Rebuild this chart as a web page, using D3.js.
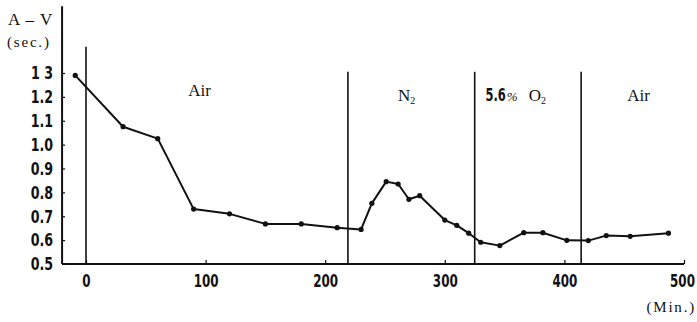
<!DOCTYPE html>
<html>
<head>
<meta charset="utf-8">
<script src="https://cdn.jsdelivr.net/npm/d3@7"></script>
<style>
  body { margin: 0; background: #fff; }
  svg { display: block; }
  .tick text { font-family: "DejaVu Sans Condensed", "Liberation Sans", sans-serif; font-weight: bold; fill: #111; }
  .serif { font-family: "Liberation Serif", "DejaVu Serif", serif; fill: #111; }
</style>
</head>
<body>
<svg width="697" height="322"></svg>
<script>
// time (min) and A-V interval (sec.)
var minutes = [-9, 31, 60, 90, 120, 150, 180, 210, 230, 239, 251, 261, 270, 279, 300, 310, 320, 330, 346, 366, 382, 402, 420, 435, 455, 487];
var avSec  = [1.29, 1.075, 1.025, 0.73, 0.71, 0.668, 0.668, 0.652, 0.645, 0.754, 0.845, 0.835, 0.771, 0.786, 0.684, 0.662, 0.629, 0.591, 0.577, 0.631, 0.631, 0.599, 0.598, 0.619, 0.616, 0.629];

var yTicks = [0.5, 0.6, 0.7, 0.8, 0.9, 1.0, 1.1, 1.2, 1.3];
var yTickLabels = ["0.5", "0.6", "0.7", "0.8", "0.9", "1.0", "1.1", "1.2", "1 3"];
var xTicks = [0, 100, 200, 300, 400, 500];

// gas changes
var phaseStart = [0, 219, 325, 414];
var phaseLabelAt = [95, 268, 356, 462];

var svg = d3.select("svg");

var x = d3.scaleLinear().domain([0, 500]).range([86, 684]);
var y = d3.scaleLinear().domain([0.5, 1.3]).range([264, 73]);

// printed digits are narrow: squeeze horizontally
var squeeze = 0.78;

// axis lines
svg.append("line")
    .attr("x1", x(-20)).attr("x2", x(-20))
    .attr("y1", y(1.58)).attr("y2", y(0.5))
    .attr("stroke", "#111").attr("stroke-width", 2);
svg.append("line")
    .attr("x1", x(-20)).attr("x2", x(500))
    .attr("y1", y(0.5)).attr("y2", y(0.5))
    .attr("stroke", "#111").attr("stroke-width", 2);

var yAxis = svg.append("g")
    .attr("transform", "translate(" + x(-20) + ",0)")
    .call(d3.axisLeft(y).tickValues(yTicks)
        .tickFormat(function(d, i) { return yTickLabels[i]; })
        .tickSizeInner(-3).tickSizeOuter(0).tickPadding(9));
yAxis.select(".domain").remove();
yAxis.selectAll("line").attr("stroke", "#111").attr("stroke-width", 1.2);
yAxis.selectAll("text")
    .attr("font-size", 18)
    .attr("x", -9 / squeeze)
    .attr("transform", "scale(" + squeeze + ",1)");

var xAxis = svg.append("g")
    .attr("transform", "translate(0," + y(0.5) + ")")
    .call(d3.axisBottom(x).tickValues(xTicks)
        .tickSizeInner(-4).tickSizeOuter(0).tickPadding(11));
xAxis.select(".domain").remove();
xAxis.selectAll("line").attr("stroke", "#111").attr("stroke-width", 1.2);
xAxis.selectAll("text")
    .attr("font-size", 17)
    .attr("x", function(d) { return d === 500 ? -2 / squeeze : 0; })
    .attr("transform", "scale(" + squeeze + ",1)");

// phase boundary lines
svg.selectAll(".phase")
  .data(phaseStart)
  .enter().append("line")
    .attr("class", "phase")
    .attr("x1", function(d) { return x(d); })
    .attr("x2", function(d) { return x(d); })
    .attr("y1", function(d, i) { return i === 0 ? y(1.41) : y(1.305); })
    .attr("y2", y(0.5))
    .attr("stroke", "#111").attr("stroke-width", 1.6);

// phase labels
svg.append("text").attr("class", "serif")
    .attr("x", x(phaseLabelAt[0])).attr("y", 96)
    .attr("text-anchor", "middle").attr("font-size", 17)
    .text("Air");

var n2 = svg.append("text").attr("class", "serif")
    .attr("x", x(phaseLabelAt[1])).attr("y", 101)
    .attr("text-anchor", "middle").attr("font-size", 17);
n2.append("tspan").text("N");
n2.append("tspan").attr("font-size", 10).attr("dy", 3).text("2");

var oc = x(phaseLabelAt[2]);
svg.append("text")
    .attr("transform", "translate(" + (oc - 6) + ",101) scale(0.75,1)")
    .attr("text-anchor", "end")
    .attr("font-family", "DejaVu Sans Condensed, sans-serif")
    .attr("font-weight", "bold").attr("font-size", 17).attr("fill", "#111")
    .text("5.6");
svg.append("text").attr("class", "serif")
    .attr("x", oc - 5).attr("y", 101)
    .attr("font-size", 13).attr("font-style", "italic")
    .text("%");
var o2 = svg.append("text").attr("class", "serif")
    .attr("x", oc + 17).attr("y", 101)
    .attr("font-size", 17);
o2.append("tspan").text("O");
o2.append("tspan").attr("font-size", 10).attr("dy", 3).text("2");

svg.append("text").attr("class", "serif")
    .attr("x", x(phaseLabelAt[3])).attr("y", 101)
    .attr("text-anchor", "middle").attr("font-size", 17)
    .text("Air");

// axis titles
svg.append("text").attr("class", "serif")
    .attr("x", 8).attr("y", 25).attr("font-size", 17)
    .attr("letter-spacing", 1)
    .text("A \u2013 V");
svg.append("text").attr("class", "serif")
    .attr("x", 7).attr("y", 47).attr("font-size", 15)
    .attr("letter-spacing", 1.8)
    .text("(sec.)");
svg.append("text").attr("class", "serif")
    .attr("x", 696).attr("y", 312).attr("font-size", 15)
    .attr("letter-spacing", 1.8)
    .attr("text-anchor", "end")
    .text("(Min.)");

// data line
var line = d3.line()
    .x(function(d, i) { return x(minutes[i]); })
    .y(function(d) { return y(d); });

svg.append("path")
    .datum(avSec)
    .attr("fill", "none")
    .attr("stroke", "#111")
    .attr("stroke-width", 2)
    .attr("stroke-linejoin", "round")
    .attr("d", line);

svg.selectAll(".pt")
  .data(avSec)
  .enter().append("circle")
    .attr("class", "pt")
    .attr("cx", function(d, i) { return x(minutes[i]); })
    .attr("cy", function(d) { return y(d); })
    .attr("r", 2.6)
    .attr("fill", "#111");
</script>
</body>
</html>
